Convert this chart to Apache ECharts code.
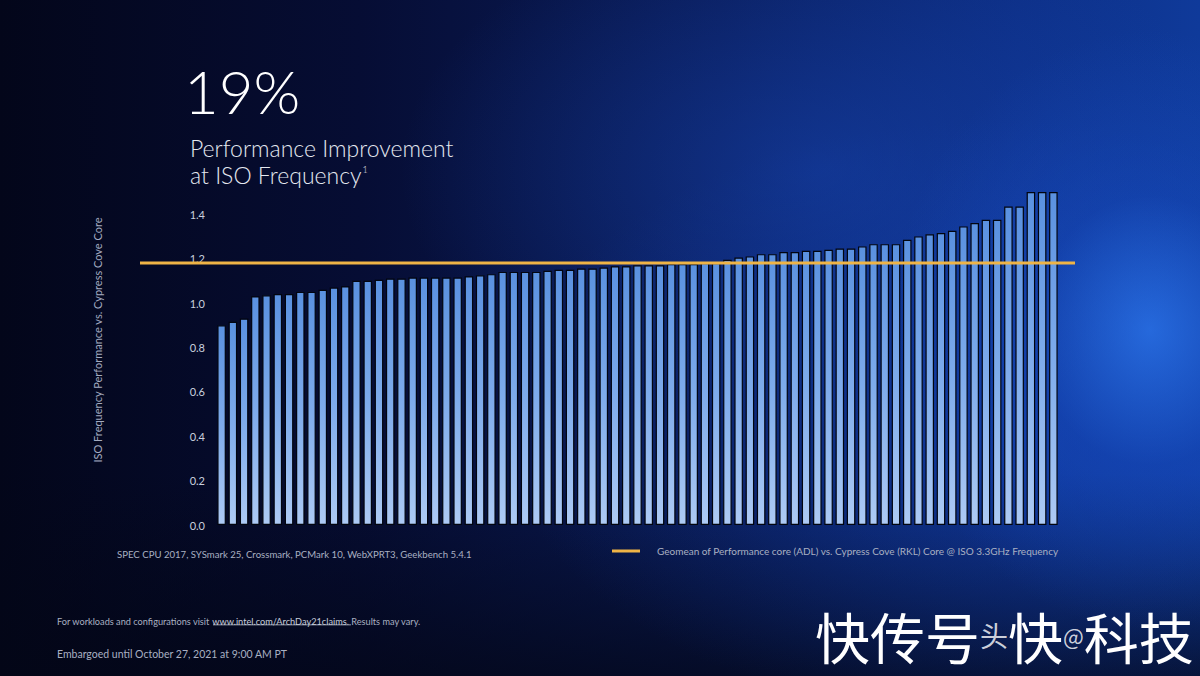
<!DOCTYPE html>
<html>
<head>
<meta charset="utf-8">
<script src="https://cdn.jsdelivr.net/npm/echarts@6/dist/echarts.min.js"></script>
<style>
  html, body { margin:0; padding:0; width:1200px; height:676px; overflow:hidden; background:#050a22; }
  #chart {
    width:1200px; height:676px;
    background:
      radial-gradient(ellipse 260px 300px at 1150px 330px, rgba(45,120,240,0.75) 0%, rgba(25,80,200,0.35) 45%, rgba(0,0,0,0) 100%),
      radial-gradient(ellipse 420px 260px at 820px 170px, rgba(25,75,190,0.45) 0%, rgba(0,0,0,0) 100%),
      radial-gradient(ellipse 500px 300px at 1000px 420px, rgba(20,70,190,0.45) 0%, rgba(0,0,0,0) 100%),
      linear-gradient(180deg, rgba(0,0,0,0) 70%, rgba(3,6,22,0.75) 100%),
      linear-gradient(90deg, #03061a 0%, #060d34 30%, #0a1d5c 60%, #0d2f86 85%, #0f3a9a 100%);
  }
</style>
</head>
<body>
<div id="chart"></div>
<script>
// ---- data ----
const Y_TICKS = [0.0, 0.2, 0.4, 0.6, 0.8, 1.0, 1.2, 1.4];
const GEOMEAN = 1.18;
const BAR_VALUES = [
  0.90, 0.915, 0.93, 1.03, 1.035, 1.04, 1.04, 1.05, 1.05, 1.06,
  1.07, 1.075, 1.10, 1.10, 1.105, 1.11, 1.11, 1.115, 1.115, 1.115,
  1.115, 1.115, 1.12, 1.125, 1.13, 1.14, 1.14, 1.14, 1.14, 1.145,
  1.15, 1.15, 1.155, 1.155, 1.16, 1.165, 1.165, 1.17, 1.17, 1.17,
  1.175, 1.175, 1.175, 1.18, 1.18, 1.195, 1.205, 1.21, 1.22, 1.22,
  1.23, 1.23, 1.235, 1.235, 1.24, 1.245, 1.245, 1.255, 1.265, 1.265,
  1.265, 1.285, 1.30, 1.31, 1.315, 1.325, 1.345, 1.36, 1.375, 1.375,
  1.435, 1.435, 1.50, 1.50, 1.50
];
const CATEGORIES = BAR_VALUES.map((_, i) => 'Workload ' + (i + 1));
const LEGEND_TEXT = 'Geomean of Performance core (ADL) vs. Cypress Cove (RKL) Core @ ISO 3.3GHz Frequency';
const Y_NAME = 'ISO Frequency Performance vs. Cypress Cove Core';
const WORKLOADS = 'SPEC CPU 2017, SYSmark 25, Crossmark, PCMark 10, WebXPRT3, Geekbench 5.4.1';
const HEADLINE = '19%';
const SUB1 = 'Performance Improvement';
const SUB2 = 'at ISO Frequency';
const FOOT1A = 'For workloads and configurations visit ';
const FOOT1B = 'www.intel.com/ArchDay21claims';
const FOOT1C = '. Results may vary.';
const FOOT2 = 'Embargoed until October 27, 2021 at 9:00 AM PT';

const FONT = 'Lato, "Open Sans", sans-serif';
const CJK = '"Noto Sans CJK SC", sans-serif';
const chart = echarts.init(document.getElementById('chart'), null, { renderer: 'svg' });

const option = {
  backgroundColor: 'transparent',
  animation: false,
  title: [
    { text: HEADLINE, left: 179, top: 56,
      textStyle: { color: '#ffffff', fontSize: 60, fontWeight: 300, fontFamily: FONT } },
    { text: SUB1, left: 185, top: 131,
      textStyle: { color: '#e4e8f0', fontSize: 23, fontWeight: 300, fontFamily: FONT } },
    { text: SUB2 + '{s|1}', left: 185, top: 158,
      textStyle: { color: '#e4e8f0', fontSize: 23, fontWeight: 300, fontFamily: FONT,
        rich: { s: { fontSize: 9, color: '#e4e8f0', fontFamily: FONT, padding: [0, 0, 11, 1] } } } },
    { text: WORKLOADS, left: 112, top: 544,
      textStyle: { color: '#a9b0c2', fontSize: 9.6, fontWeight: 'normal', fontFamily: FONT } },
    { text: FOOT1A + '{u|' + FOOT1B + '}' + FOOT1C, left: 52, top: 612,
      textStyle: { color: '#a9b0c2', fontSize: 9.2, fontWeight: 'normal', fontFamily: FONT,
        rich: { u: { color: '#c8cedc', fontSize: 9.2, fontFamily: FONT } } } },
    { text: FOOT2, left: 52, top: 643,
      textStyle: { color: '#a9b0c2', fontSize: 10.5, fontWeight: 'normal', fontFamily: FONT } },
    { text: '快传号{m|头}快{s|@}科技', left: 810, top: 600,
      textStyle: { color: '#ffffff', fontSize: 55, lineHeight: 60, fontWeight: 'normal', fontFamily: CJK,
        rich: {
          m: { color: 'rgba(230,232,238,0.9)', fontSize: 28, lineHeight: 60, fontFamily: CJK },
          s: { color: 'rgba(230,232,238,0.9)', fontSize: 22, lineHeight: 60, fontFamily: CJK }
        } } }
  ],
  graphic: [
    { type: 'text', x: 97, y: 340, rotation: Math.PI / 2,
      style: { text: Y_NAME, fill: '#a3abc0', fontSize: 11, fontFamily: FONT, align: 'center', verticalAlign: 'middle' } },
    { type: 'rect', shape: { x: 213, y: 624.5, width: 138, height: 0.8 },
      style: { fill: '#c8cedc' } }
  ],
  legend: {
    left: 612, top: 546, padding: 0,
    itemWidth: 28, itemHeight: 3,
    data: [{ name: LEGEND_TEXT, icon: 'rect' }],
    textStyle: { color: '#a9b0c2', fontSize: 10, fontFamily: FONT, padding: [0, 0, 0, 12] }
  },
  grid: [
    { left: 216, right: 141, top: 192, bottom: 151, containLabel: false },
    { left: 140, right: 125, top: 192, bottom: 151, containLabel: false }
  ],
  xAxis: [
    { type: 'category', gridIndex: 0, data: CATEGORIES,
      axisLine: { show: false }, axisTick: { show: false }, axisLabel: { show: false } },
    { type: 'category', gridIndex: 1, data: ['start', 'end'], boundaryGap: false,
      axisLine: { show: false }, axisTick: { show: false }, axisLabel: { show: false } }
  ],
  yAxis: [
    { type: 'value', gridIndex: 0, min: 0, max: 1.5, interval: 0.2,
      splitLine: { show: false }, axisLine: { show: false }, axisTick: { show: false },
      axisLabel: { color: '#c9d0de', fontSize: 11, fontFamily: FONT, margin: 11, showMaxLabel: false,
        formatter: v => (Y_TICKS.some(t => Math.abs(t - v) < 1e-6) ? v.toFixed(1) : '') } },
    { type: 'value', gridIndex: 1, min: 0, max: 1.5,
      splitLine: { show: false }, axisLine: { show: false }, axisTick: { show: false }, axisLabel: { show: false } }
  ],
  series: [
    { type: 'bar', name: 'Performance ratio', xAxisIndex: 0, yAxisIndex: 0,
      data: BAR_VALUES, barCategoryGap: '24%',
      itemStyle: {
        color: new echarts.graphic.LinearGradient(0, 0, 0, 1, [
          { offset: 0, color: '#5a91e0' },
          { offset: 0.5, color: '#7eabeb' },
          { offset: 1, color: '#adcaf4' }
        ]),
        borderColor: '#02050f', borderWidth: 1.2
      } },
    { type: 'line', name: LEGEND_TEXT, xAxisIndex: 1, yAxisIndex: 1,
      data: [GEOMEAN, GEOMEAN], symbol: 'none', z: 5,
      lineStyle: { color: '#efb446', width: 3 },
      itemStyle: { color: '#efb446' } }
  ]
};
chart.setOption(option);
</script>
</body>
</html>
